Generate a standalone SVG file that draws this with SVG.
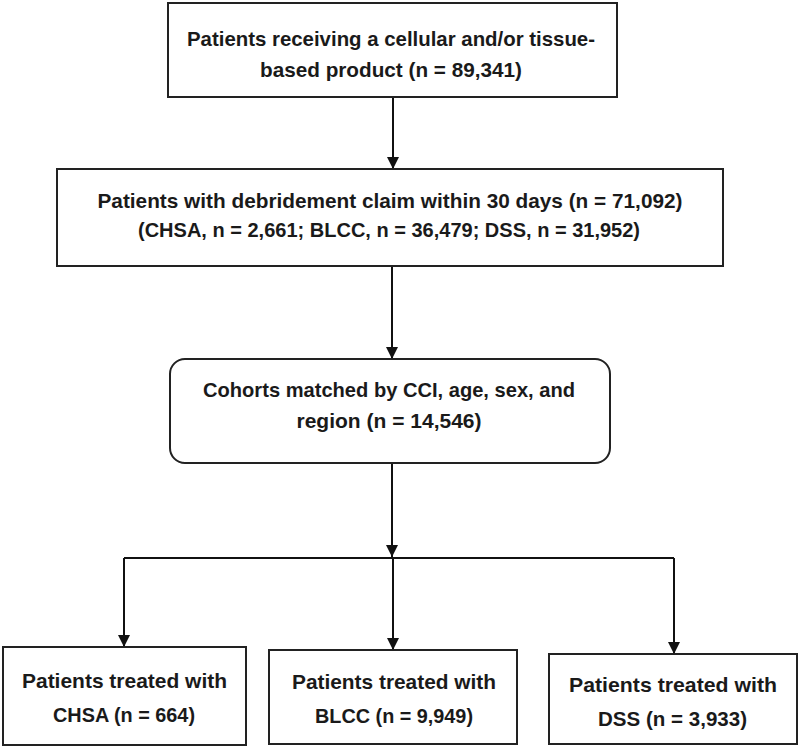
<svg xmlns="http://www.w3.org/2000/svg" width="800" height="748" viewBox="0 0 800 748">
<defs>
<style>
.box{fill:#fff;stroke:#222;stroke-width:2}
.t{font-family:"Liberation Sans",Arial,sans-serif;font-weight:bold;font-size:20.5px;fill:#1a1a1a;text-anchor:middle}
.c{fill:none;stroke:#111;stroke-width:2}
</style>
<marker id="ah" markerUnits="userSpaceOnUse" markerWidth="12" markerHeight="12" refX="12" refY="6" orient="auto">
<path d="M0,0 L12,6 L0,12 z" fill="#111"/>
</marker>
</defs>
<rect width="800" height="748" fill="#fff"/>
<g id="connectors">
<line class="c" x1="393" y1="97" x2="393" y2="169" marker-end="url(#ah)"/>
<line class="c" x1="392" y1="266" x2="392" y2="359" marker-end="url(#ah)"/>
<line class="c" x1="392" y1="463" x2="392" y2="557" marker-end="url(#ah)"/>
<line class="c" x1="124" y1="558" x2="674" y2="558"/>
<line class="c" x1="124" y1="558" x2="124" y2="647" marker-end="url(#ah)"/>
<line class="c" x1="393" y1="558" x2="393" y2="650" marker-end="url(#ah)"/>
<line class="c" x1="674" y1="558" x2="674" y2="654" marker-end="url(#ah)"/>
</g>
<g id="n1">
<rect class="box" x="168" y="3" width="449" height="94"/>
<text class="t" x="391" y="46" textLength="408" lengthAdjust="spacingAndGlyphs">Patients receiving a cellular and/or tissue-</text>
<text class="t" x="391" y="77" textLength="262" lengthAdjust="spacingAndGlyphs">based product (n = 89,341)</text>
</g>
<g id="n2">
<rect class="box" x="57" y="169" width="666" height="97"/>
<text class="t" x="390" y="208" textLength="585" lengthAdjust="spacingAndGlyphs">Patients with debridement claim within 30 days (n = 71,092)</text>
<text class="t" x="389" y="237" textLength="502" lengthAdjust="spacingAndGlyphs">(CHSA, n = 2,661; BLCC, n = 36,479; DSS, n = 31,952)</text>
</g>
<g id="n3">
<rect class="box" x="170" y="359" width="440" height="104" rx="15" ry="15"/>
<text class="t" x="389" y="397" textLength="372" lengthAdjust="spacingAndGlyphs">Cohorts matched by CCI, age, sex, and</text>
<text class="t" x="389" y="428" textLength="185" lengthAdjust="spacingAndGlyphs">region (n = 14,546)</text>
</g>
<g id="n4">
<rect class="box" x="3" y="647" width="243" height="98"/>
<text class="t" x="124.5" y="688" textLength="205" lengthAdjust="spacingAndGlyphs">Patients treated with</text>
<text class="t" x="124" y="722" textLength="142" lengthAdjust="spacingAndGlyphs">CHSA (n = 664)</text>
</g>
<g id="n5">
<rect class="box" x="269" y="650" width="248" height="94"/>
<text class="t" x="394" y="689" textLength="204" lengthAdjust="spacingAndGlyphs">Patients treated with</text>
<text class="t" x="394" y="723" textLength="158" lengthAdjust="spacingAndGlyphs">BLCC (n = 9,949)</text>
</g>
<g id="n6">
<rect class="box" x="549" y="654" width="248" height="90"/>
<text class="t" x="673" y="692" textLength="208" lengthAdjust="spacingAndGlyphs">Patients treated with</text>
<text class="t" x="672.5" y="726" textLength="149" lengthAdjust="spacingAndGlyphs">DSS (n = 3,933)</text>
</g>
</svg>
